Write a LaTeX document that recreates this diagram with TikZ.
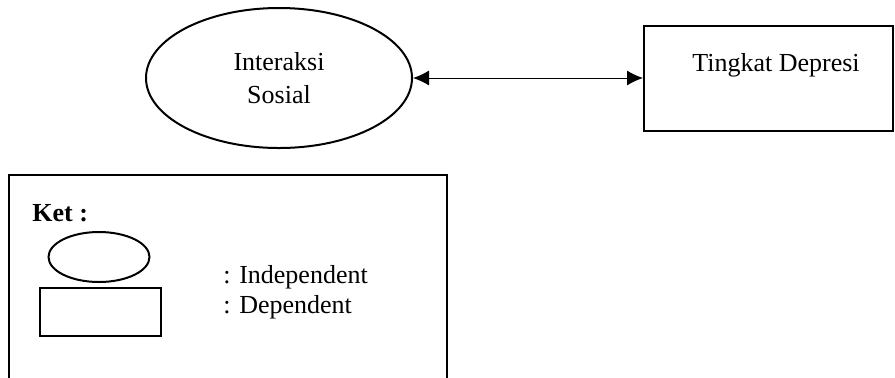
\documentclass[tikz,border=0pt]{standalone}
\usepackage{fontspec}
\setmainfont{Liberation Serif}
\usetikzlibrary{shapes.geometric,arrows.meta}
\tikzset{
  shp/.style={draw, line width=1pt, inner sep=0pt},
  ellshape/.style={shp, ellipse},
  boxshape/.style={shp, rectangle},
  txt/.style={inner sep=0pt, font=\fontsize{13}{16.5}\selectfont},
  link/.style={line width=0.5pt, {Latex[length=8pt,width=7.5pt]}-{Latex[length=8pt,width=7.5pt]}}
}
\begin{document}
\begin{tikzpicture}[x=0.5pt,y=-0.5pt]
\useasboundingbox (0,0) rectangle (895,377);
% main nodes
\node[ellshape, minimum width=133pt, minimum height=70pt, txt, align=center] (ind) at (279,78) {Interaksi\\Sosial};
\node[boxshape, minimum width=124.5pt, minimum height=52.5pt] (dep) at (768.5,78) {};
\node[txt] (deptxt) at (776,65) {Tingkat Depresi};
\draw[link] (ind.east) -- (dep.west);
% legend
\draw[line width=1pt] (9,378) -- (9,175) -- (447,175) -- (447,378);
\node[txt, anchor=west, font=\fontsize{13}{16.5}\selectfont\bfseries] (ket) at (32,213) {Ket :};
\node[ellshape, minimum width=50.5pt, minimum height=25pt] (lell) at (99,257) {};
\node[boxshape, minimum width=60.5pt, minimum height=24pt] (lbox) at (100.5,312) {};
\node[txt, anchor=west] (lind) at (223,277) {: Independent};
\node[txt, anchor=west] (ldep) at (223,307) {: Dependent};
\end{tikzpicture}
\end{document}
